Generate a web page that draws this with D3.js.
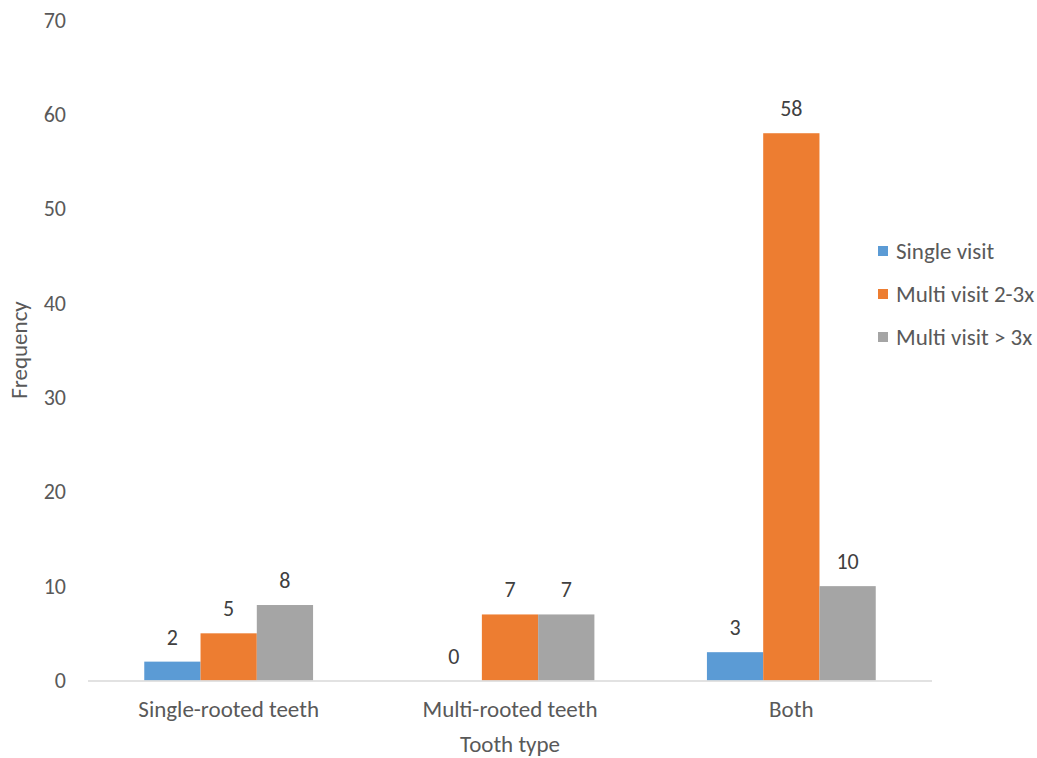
<!DOCTYPE html>
<html>
<head>
<meta charset="utf-8">
<script src="https://cdn.jsdelivr.net/npm/d3@7"></script>
<style>
  body { margin: 0; background: #fff; }
  text { font-family: Carlito, Lato, sans-serif; fill: #595959; font-size: 23px; }
</style>
</head>
<body>
<div id="vis"></div>
<script>
// chart data
var categories = ['Single-rooted teeth', 'Multi-rooted teeth', 'Both'];
var seriesNames = ['Single visit', 'Multi visit 2-3x', 'Multi visit > 3x'];
var singleVisit = [2, 0, 3];
var multi23 = [5, 7, 58];
var multi3 = [8, 7, 10];
var yTicks = [0, 10, 20, 30, 40, 50, 60, 70];

var seriesColors = ['#5b9bd5', '#ed7d31', '#a5a5a5'];
var seriesValues = [singleVisit, multi23, multi3];

var width = 1037;
var height = 758;
var margin = { top: 20, left: 88, right: 105, bottom: 77 };

var svg = d3.select('#vis').append('svg')
  .attr('width', width)
  .attr('height', height);

// one band per category, bars take the middle 60%
var x0 = d3.scaleBand()
  .domain(categories)
  .range([margin.left, width - margin.right]);

var x1 = d3.scaleBand()
  .domain(d3.range(seriesNames.length))
  .range([x0.bandwidth() * 0.2, x0.bandwidth() * 0.8]);

var y = d3.scaleLinear()
  .domain([0, 70])
  .range([height - margin.bottom - 0.5, margin.top]);

// y tick labels, no axis line
svg.append('g')
  .selectAll('text')
  .data(yTicks)
  .enter().append('text')
  .attr('x', 66)
  .attr('y', function (d) { return y(d); })
  .attr('dy', '0.35em')
  .attr('text-anchor', 'end')
  .style('font-size', '22px')
  .text(function (d) { return d; });

// bars
var groups = svg.append('g')
  .selectAll('g')
  .data(categories)
  .enter().append('g')
  .attr('transform', function (d) { return 'translate(' + x0(d) + ',0)'; });

var cells = function (d, ci) {
  return seriesValues.map(function (s, si) { return { si: si, v: s[ci] }; });
};

groups.selectAll('rect')
  .data(cells)
  .enter().append('rect')
  .attr('x', function (d) { return x1(d.si); })
  .attr('width', x1.bandwidth())
  .attr('y', function (d) { return y(d.v); })
  .attr('height', function (d) { return y(0) - y(d.v); })
  .attr('fill', function (d) { return seriesColors[d.si]; });

groups.selectAll('text.lbl')
  .data(cells)
  .enter().append('text')
  .attr('class', 'lbl')
  .attr('x', function (d) { return x1(d.si) + x1.bandwidth() / 2; })
  .attr('y', function (d) { return y(d.v) - 17; })
  .attr('text-anchor', 'middle')
  .style('fill', '#404040')
  .style('font-size', '22px')
  .text(function (d) { return d.v; });

// x axis line
svg.append('line')
  .attr('x1', margin.left)
  .attr('x2', width - margin.right)
  .attr('y1', y(0) + 0.5)
  .attr('y2', y(0) + 0.5)
  .attr('stroke', '#d9d9d9')
  .attr('stroke-width', 1.5);

svg.append('g')
  .selectAll('text')
  .data(categories)
  .enter().append('text')
  .attr('x', function (d) { return x0(d) + x0.bandwidth() / 2; })
  .attr('y', 717)
  .attr('text-anchor', 'middle')
  .text(function (d) { return d; });

// axis titles
svg.append('text')
  .attr('x', 510)
  .attr('y', 752)
  .attr('text-anchor', 'middle')
  .text('Tooth type');

svg.append('text')
  .attr('transform', 'translate(27,350) rotate(-90)')
  .attr('text-anchor', 'middle')
  .text('Frequency');

// legend
var legend = svg.append('g')
  .selectAll('g')
  .data(seriesNames)
  .enter().append('g')
  .attr('transform', function (d, i) { return 'translate(878,' + (251 + i * 43) + ')'; });

legend.append('rect')
  .attr('x', 0)
  .attr('y', -5)
  .attr('width', 10)
  .attr('height', 10)
  .attr('fill', function (d, i) { return seriesColors[i]; });

legend.append('text')
  .attr('x', 18)
  .attr('dy', '0.35em')
  .text(function (d) { return d; });
</script>
</body>
</html>
